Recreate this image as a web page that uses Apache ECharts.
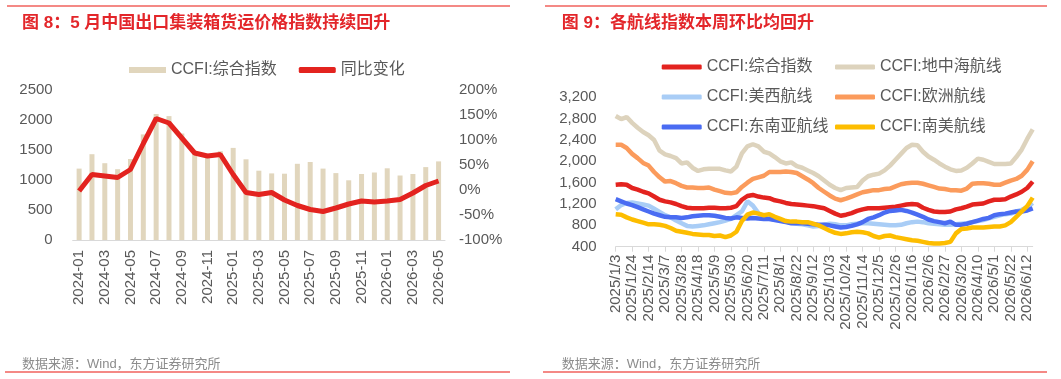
<!DOCTYPE html>
<html>
<head>
<meta charset="utf-8">
<script src="https://cdn.jsdelivr.net/npm/echarts@6/dist/echarts.min.js"></script>
<style>
html,body{margin:0;padding:0;background:#fff}
#left{position:absolute;left:0;top:0;width:530px;height:379px}
#right{position:absolute;left:530px;top:0;width:531px;height:379px}
</style>
</head>
<body>
<div id="left"></div>
<div id="right"></div>
<script>
// 图8 数据
var months = ['2024-01','2024-02','2024-03','2024-04','2024-05','2024-06','2024-07','2024-08','2024-09','2024-10',
  '2024-11','2024-12','2025-01','2025-02','2025-03','2025-04','2025-05','2025-06','2025-07','2025-08',
  '2025-09','2025-10','2025-11','2025-12','2026-01','2026-02','2026-03','2026-04','2026-05'];
var ccfiMonthly = [1190,1430,1280,1180,1350,1760,2100,2065,1775,1440,
  1405,1480,1535,1345,1155,1110,1105,1270,1300,1190,
  1115,995,1100,1125,1195,1075,1100,1215,1310];
var yoyChange = [-2,31,28,25,41,93,143,134,104,74,
  68,71,31,-5,-9,-5,-20,-31,-39,-43,
  -36,-28,-22,-24,-22,-19,-6,9,18];

// 图9 数据（周）
var weeks = ['2025/1/3','2025/1/10','2025/1/17','2025/1/24','2025/1/31','2025/2/7','2025/2/14','2025/2/21','2025/2/28',
  '2025/3/7','2025/3/14','2025/3/21','2025/3/28','2025/4/4','2025/4/11','2025/4/18','2025/4/25',
  '2025/5/2','2025/5/9','2025/5/16','2025/5/23','2025/5/30','2025/6/6','2025/6/13','2025/6/20','2025/6/27',
  '2025/7/4','2025/7/11','2025/7/18','2025/7/25','2025/8/1','2025/8/8','2025/8/15','2025/8/22','2025/8/29',
  '2025/9/5','2025/9/12','2025/9/19','2025/9/26','2025/10/3','2025/10/10','2025/10/17','2025/10/24','2025/10/31',
  '2025/11/7','2025/11/14','2025/11/21','2025/11/28','2025/12/5','2025/12/12','2025/12/19','2025/12/26',
  '2026/1/2','2026/1/9','2026/1/16','2026/1/23','2026/1/30','2026/2/6','2026/2/13','2026/2/20','2026/2/27',
  '2026/3/6','2026/3/13','2026/3/20','2026/3/27','2026/4/3','2026/4/10','2026/4/17','2026/4/24',
  '2026/5/1','2026/5/8','2026/5/15','2026/5/22','2026/5/29','2026/6/5','2026/6/12','2026/6/19'];
var composite = [1560,1570,1560,1500,1470,1430,1400,1340,1280,1250,
  1230,1200,1160,1130,1120,1120,1120,1130,1130,1120,
  1120,1130,1160,1280,1350,1370,1340,1320,1310,1270,
  1250,1220,1200,1190,1180,1170,1160,1140,1120,1070,
  1020,980,1000,1030,1070,1100,1120,1120,1120,1130,
  1140,1150,1170,1190,1200,1190,1130,1090,1060,1050,
  1050,1060,1100,1120,1150,1190,1200,1210,1250,1280,
  1280,1290,1340,1380,1430,1500,1620];
var mediterranean = [2850,2790,2830,2720,2630,2550,2490,2400,2200,2130,
  2100,2060,1960,1980,1880,1820,1850,1860,1860,1860,
  1830,1810,1900,2150,2280,2320,2280,2180,2150,2080,
  2000,1960,1980,1910,1880,1830,1780,1720,1640,1560,
  1500,1460,1500,1510,1520,1640,1720,1750,1770,1830,
  1920,2030,2140,2250,2310,2300,2180,2090,2030,1960,
  1900,1850,1820,1830,1880,1960,2050,2030,1990,1950,
  1950,1950,1960,2080,2220,2420,2600];
var usWest = [1100,1180,1220,1230,1210,1190,1170,1110,1050,990,
  950,890,840,790,780,790,800,820,840,860,
  890,920,990,1060,1250,1170,1030,970,930,910,
  890,870,850,830,820,800,780,790,810,830,
  820,800,800,820,830,840,840,830,820,810,
  800,800,810,840,860,870,860,840,830,820,
  810,810,820,830,840,860,880,900,930,960,
  990,1010,1020,1060,1090,1140,1220];
var europe = [2310,2310,2250,2140,2060,1970,1920,1800,1700,1620,
  1630,1590,1540,1510,1510,1500,1500,1510,1470,1440,
  1410,1400,1420,1520,1600,1670,1700,1730,1800,1800,
  1800,1810,1800,1780,1720,1660,1590,1500,1430,1360,
  1300,1270,1300,1340,1380,1420,1440,1460,1460,1480,
  1490,1530,1570,1590,1600,1600,1580,1550,1520,1490,
  1480,1460,1460,1450,1490,1580,1590,1590,1580,1560,
  1560,1600,1640,1670,1730,1840,2000];
var seAsia = [1290,1250,1210,1180,1140,1100,1060,1020,990,960,
  950,950,940,950,970,980,990,990,980,960,
  940,930,950,940,930,940,930,920,920,900,
  880,860,840,840,840,830,820,810,810,800,
  780,760,770,790,820,860,920,950,990,1040,
  1070,1080,1090,1070,1040,1000,960,910,880,860,
  840,870,810,810,830,860,890,920,940,990,
  1010,1020,1040,1060,1060,1080,1120];
var southAmerica = [1010,1000,950,910,880,850,820,820,810,790,
  750,700,680,660,640,630,620,620,600,610,
  580,610,680,880,1000,1040,1020,990,1010,960,
  920,880,870,870,860,860,830,800,750,700,
  660,640,650,670,680,670,650,600,570,600,
  610,580,560,540,520,510,490,470,460,460,
  470,490,650,730,740,760,760,760,770,780,
  780,800,860,960,1060,1160,1320];

var FONT = "'Liberation Sans', 'Noto Sans CJK SC', sans-serif";
var GREY = '#595959';
var RED_LINE = '#f0625d';

function frame(title, x0, x1, titleX) {
  return {
    title: [
      { text: title, left: titleX, top: 10,
        textStyle: { color: '#e3262a', fontSize: 17, fontWeight: 'bold', fontFamily: FONT } },
      { text: '数据来源：Wind，东方证券研究所', left: titleX, top: 353,
        textStyle: { color: '#8c8c8c', fontSize: 13, fontWeight: 'normal', fontFamily: FONT } }
    ],
    graphic: [
      { type: 'line', shape: { x1: x0 + 2, y1: 6, x2: x1, y2: 6 }, style: { stroke: RED_LINE, lineWidth: 1.5 } },
      { type: 'line', shape: { x1: x0, y1: 372, x2: x1, y2: 372 }, style: { stroke: RED_LINE, lineWidth: 1.5 } }
    ]
  };
}

var left = echarts.init(document.getElementById('left'));
var lf = frame('图 8：5 月中国出口集装箱货运价格指数持续回升', 5, 510, 17);
left.setOption({
  animation: false,
  textStyle: { fontFamily: FONT },
  title: lf.title,
  graphic: lf.graphic,
  legend: {
    left: 129, top: 62, padding: 0, itemWidth: 37, itemHeight: 6, itemGap: 22,
    textStyle: { color: GREY, fontSize: 16, lineHeight: 16 },
    data: [{ name: 'CCFI:综合指数', icon: 'rect' }, { name: '同比变化', icon: 'roundRect' }]
  },
  grid: { left: 72.7, right: 85, top: 90, bottom: 139 },
  xAxis: {
    type: 'category', data: months, boundaryGap: true,
    axisLine: { lineStyle: { color: '#d9d9d9' } },
    axisTick: { interval: 1, length: 5, lineStyle: { color: '#d9d9d9' } },
    axisLabel: { interval: 1, rotate: 90, color: GREY, fontSize: 15, margin: 10 }
  },
  yAxis: [
    { type: 'value', min: 0, max: 2500, interval: 500,
      splitLine: { show: false }, axisLine: { show: false }, axisTick: { show: false },
      axisLabel: { color: GREY, fontSize: 15, margin: 20, formatter: function (v) { return String(v); } } },
    { type: 'value', min: -100, max: 200, interval: 50,
      splitLine: { show: false }, axisLine: { show: false }, axisTick: { show: false },
      axisLabel: { color: GREY, fontSize: 15, margin: 14, formatter: '{value}%' } }
  ],
  series: [
    { name: 'CCFI:综合指数', type: 'bar', data: ccfiMonthly, barWidth: 5,
      itemStyle: { color: '#e1d6bd' } },
    { name: '同比变化', type: 'line', yAxisIndex: 1, data: yoyChange, symbol: 'none',
      lineStyle: { color: '#e3231f', width: 5 }, itemStyle: { color: '#e3231f' } }
  ]
});

var right = echarts.init(document.getElementById('right'));
var rf = frame('图 9：各航线指数本周环比均回升', 13, 517, 26.7);
var routes = [
  { name: 'CCFI:综合指数', data: composite, color: '#e3231f' },
  { name: 'CCFI:地中海航线', data: mediterranean, color: '#ddd3bd' },
  { name: 'CCFI:美西航线', data: usWest, color: '#a9cdf6' },
  { name: 'CCFI:欧洲航线', data: europe, color: '#fb9b5c' },
  { name: 'CCFI:东南亚航线', data: seAsia, color: '#4a6cf2' },
  { name: 'CCFI:南美航线', data: southAmerica, color: '#fdbd00' }
];
var legendBase = {
  orient: 'vertical', top: 59, padding: 0, icon: 'roundRect',
  itemWidth: 40, itemHeight: 5, itemGap: 14,
  textStyle: { color: GREY, fontSize: 16, lineHeight: 16 }
};
right.setOption({
  animation: false,
  textStyle: { fontFamily: FONT },
  title: rf.title,
  graphic: rf.graphic,
  legend: [
    Object.assign({}, legendBase, { left: 131.7, data: ['CCFI:综合指数', 'CCFI:美西航线', 'CCFI:东南亚航线'] }),
    Object.assign({}, legendBase, { left: 305, data: ['CCFI:地中海航线', 'CCFI:欧洲航线', 'CCFI:南美航线'] })
  ],
  grid: { left: 85.7, right: 28.3, top: 97.3, bottom: 132.3 },
  xAxis: {
    type: 'category', data: weeks, boundaryGap: false,
    axisLine: { lineStyle: { color: '#d9d9d9' } },
    axisTick: { interval: 2, length: 5, lineStyle: { color: '#d9d9d9' } },
    axisLabel: { interval: 2, rotate: 90, color: GREY, fontSize: 15, margin: 8 }
  },
  yAxis: {
    type: 'value', min: 400, max: 3200, interval: 400,
    splitLine: { show: false }, axisLine: { show: false }, axisTick: { show: false },
    axisLabel: { color: GREY, fontSize: 15, margin: 19,
      formatter: function (v) { return v.toLocaleString('en-US'); } }
  },
  series: routes.map(function (r) {
    return { name: r.name, type: 'line', data: r.data, symbol: 'none',
      lineStyle: { color: r.color, width: 4.5 }, itemStyle: { color: r.color } };
  })
});
</script>
</body>
</html>
